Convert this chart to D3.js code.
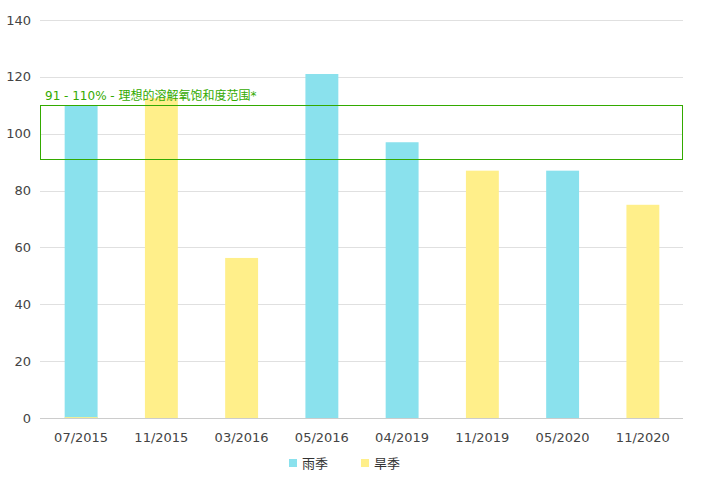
<!DOCTYPE html>
<html><head><meta charset="utf-8">
<script src="https://cdn.jsdelivr.net/npm/d3@7/dist/d3.min.js"></script>
<style>body{margin:0;background:#fff;}svg{display:block;font-family:"DejaVu Sans","Noto Sans CJK SC",sans-serif;}</style>
</head><body>
<svg id="c" width="702" height="498"></svg>
<script>
const categories = ["07/2015","11/2015","03/2016","05/2016","04/2019","11/2019","05/2020","11/2020"];
const rainyValues = [110, 0, 0, 121, 97, 0, 87, 0];
const dryValues = [0.3, 112.5, 56.3, 0, 0, 87, 0, 75];
const seriesNames = ["雨季","旱季"];
const yTicks = [0,20,40,60,80,100,120,140];
const rangeLow = 91, rangeHigh = 110;
const rangeLabel = "91 - 110% - 理想的溶解氧饱和度范围*";

const colors = ["#8ae1ed","#ffef8a"];
const green = "#33aa00";
const svg = d3.select("#c");
const L = 40, R = 683, T = 20, B = 418;
const x = d3.scaleBand().domain(categories).range([L+1, R]).paddingInner(0.59).paddingOuter(0.295);
const y = d3.scaleLinear().domain([0,140]).range([B, T]);

// gridlines
svg.append("g").selectAll("line").data(yTicks.filter(d=>d>0)).join("line")
  .attr("x1", L).attr("x2", R).attr("y1", d=>Math.round(y(d))+0.5).attr("y2", d=>Math.round(y(d))+0.5)
  .attr("stroke", "#e0e0e0").attr("stroke-width", 1);

// y labels
svg.append("g").selectAll("text").data(yTicks).join("text")
  .attr("x", 31).attr("y", d=>y(d)).attr("dy","0.35em").attr("text-anchor","end")
  .attr("font-size", 13).attr("fill", "#444").text(d=>d);

// bars
const series = [rainyValues, dryValues];
series.forEach((vals, si) => {
  svg.append("g").selectAll("rect").data(categories.map((c,i)=>({c, v: vals[i]})).filter(d=>d.v>0)).join("rect")
    .attr("x", d=>x(d.c)).attr("width", x.bandwidth())
    .attr("y", d=>y(d.v)).attr("height", d=>Math.max(1, B - y(d.v)))
    .attr("fill", colors[si]);
});

// x axis line
svg.append("line").attr("x1", L).attr("x2", R).attr("y1", B+0.5).attr("y2", B+0.5).attr("stroke","#ccc");

// x labels
svg.append("g").selectAll("text").data(categories).join("text")
  .attr("x", d=>x(d)+x.bandwidth()/2).attr("y", 437).attr("dy","0.35em").attr("text-anchor","middle")
  .attr("font-size", 13).attr("fill", "#444").text(d=>d);

// range box
svg.append("rect").attr("x", L+0.5).attr("width", R-L-1)
  .attr("y", Math.round(y(rangeHigh))+0.5).attr("height", Math.round(y(rangeLow))-Math.round(y(rangeHigh)))
  .attr("fill","none").attr("stroke", green).attr("stroke-width",1);
svg.append("text").attr("x", 45).attr("y", y(rangeHigh)-5).attr("font-size", 12)
  .attr("fill", green).text(rangeLabel);

// legend
const lg = svg.append("g");
const lx = [289, 361];
seriesNames.forEach((n,i)=>{
  lg.append("rect").attr("x", lx[i]).attr("y", 459).attr("width", 8).attr("height", 8).attr("fill", colors[i]);
  lg.append("text").attr("x", lx[i]+13).attr("y", 463).attr("dy","0.35em").attr("font-size",13)
    .attr("fill","#333").attr("font-family","'Noto Sans CJK SC',sans-serif").text(n);
});
</script>
</body></html>
